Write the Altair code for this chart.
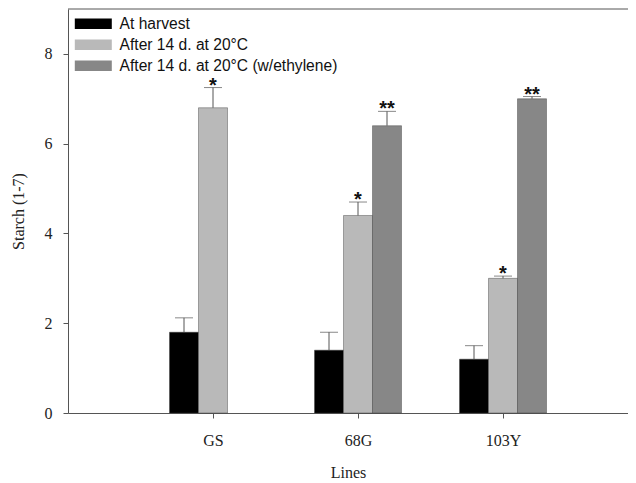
import altair as alt
import pandas as pd

lines = ["GS", "68G", "103Y"]
series = ["At harvest", "After 14 d. at 20°C", "After 14 d. at 20°C (w/ethylene)"]
harvest = [1.8, 1.4, 1.2]
harvest_err = [0.32, 0.4, 0.3]
after14 = [6.8, 4.4, 3.0]
after14_err = [0.45, 0.3, 0.05]
ethylene = [None, 6.4, 7.0]
ethylene_err = [None, 0.32, 0.05]
after14_sig = ["*", "*", "*"]
ethylene_sig = ["", "**", "**"]
colors = ["#000000", "#b9b9b9", "#878787"]

rows = []
for i, ln in enumerate(lines):
    for si, (vals, errs, sigs) in enumerate([
        (harvest, harvest_err, ["", "", ""]),
        (after14, after14_err, after14_sig),
        (ethylene, ethylene_err, ethylene_sig),
    ]):
        if vals[i] is None:
            continue
        rows.append({"line": ln, "li": i + 1, "series": series[si], "si": si,
                     "value": vals[i], "err": errs[i], "sig": sigs[i]})
df = pd.DataFrame(rows)

xscale = alt.Scale(domain=[0, 3.862], nice=False, zero=False)
yscale = alt.Scale(domain=[0, 9], nice=False)

base = alt.Chart(df).transform_calculate(
    xc="datum.li + (datum.si - 1) * 0.2",
    x0="datum.li + (datum.si - 1) * 0.2 - 0.1",
    x1="datum.li + (datum.si - 1) * 0.2 + 0.1",
    top="datum.value + datum.err",
)

bars = base.mark_bar(stroke="#333", strokeWidth=0.4).encode(
    x=alt.X("x0:Q", scale=xscale, title="Lines",
            axis=alt.Axis(values=[1, 2, 3], labelExpr="['', 'GS', '68G', '103Y'][datum.value]",
                          grid=False, tickSize=5, labelPadding=14, titlePadding=16)),
    x2="x1:Q",
    y=alt.Y("value:Q", scale=yscale, title="Starch (1-7)",
            axis=alt.Axis(values=[0, 2, 4, 6, 8], grid=False, tickSize=5, labelPadding=11, titlePadding=18)),
    y2=alt.datum(0),
    color=alt.Color("series:N", sort=series,
                    scale=alt.Scale(domain=series, range=colors),
                    legend=alt.Legend(title=None, orient="none", legendX=17.5, legendY=7,
                                      symbolType="M-3.7,-1.05L3.7,-1.05L3.7,1.05L-3.7,1.05Z", symbolSize=100,
                                      symbolStrokeWidth=0, labelOffset=18.5, padding=0,
                                      rowPadding=4, labelFont="Liberation Sans", labelFontSize=15.6,
                                      labelColor="#111", labelLimit=400)),
)

err_rule = base.mark_rule(color="#555", strokeWidth=1).encode(
    x=alt.X("xc:Q", scale=xscale), y=alt.Y("value:Q", scale=yscale), y2="top:Q"
)
caps = base.mark_tick(orient="horizontal", size=18, thickness=1, color="#555").encode(
    x=alt.X("xc:Q", scale=xscale), y=alt.Y("top:Q", scale=yscale)
)
stars = base.mark_text(font="Liberation Sans", fontWeight="bold", fontSize=20,
                       baseline="alphabetic", dy=4, color="#111").encode(
    x=alt.X("xc:Q", scale=xscale), y=alt.Y("top:Q", scale=yscale), text="sig:N"
)
top_line = alt.Chart(pd.DataFrame({"a": [0]})).mark_rule(color="#555", strokeWidth=1).encode(
    y=alt.value(0)
)

chart = alt.layer(bars, err_rule, caps, stars, top_line).properties(
    width=560, height=404,
    padding={"left": 60, "top": 1, "right": 0, "bottom": 70},
    autosize=alt.AutoSizeParams(type="none"),
).configure_view(stroke=None).configure_axis(
    domainColor="#555", tickColor="#555", labelFont="Liberation Serif", labelFontSize=16,
    titleFont="Liberation Serif", titleFontSize=16, titleFontWeight="normal",
    labelColor="#222", titleColor="#222",
)

chart.save("out.html", embed_options={"renderer": "svg", "actions": False})
